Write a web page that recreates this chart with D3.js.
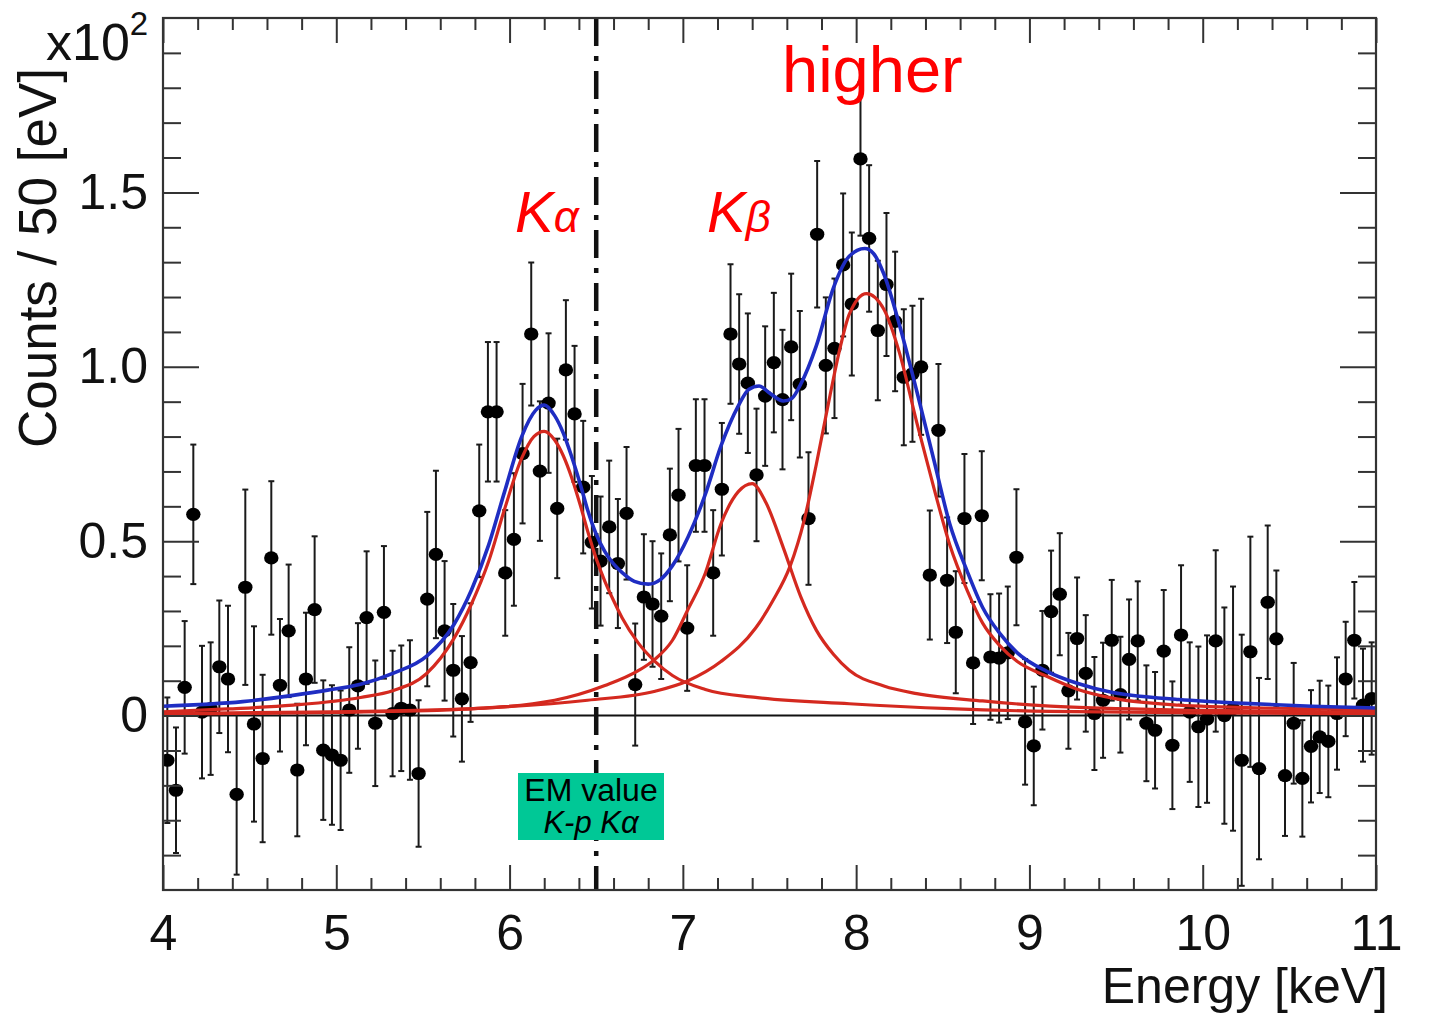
<!DOCTYPE html>
<html lang="en">
<head>
<meta charset="UTF-8">
<title>Kaonic X-ray spectrum</title>
<script src="https://d3js.org/d3.v7.min.js"></script>
<style>
  body { margin: 0; background: #fff; }
  svg { font-family: "Liberation Sans", Arial, Helvetica, sans-serif; }
</style>
</head>
<body>
<svg id="chart" width="1430" height="1013"></svg>
<script>
// ---- data ----
const binStart = 4.0, binWidth = 0.05;   // 50 eV bins
const counts = [
  -0.128,-0.214,0.081,0.577,0.01,0.02,0.14,0.105,-0.226,0.368,
  -0.024,-0.123,0.452,0.087,0.243,-0.156,0.105,0.304,-0.099,-0.113,
  -0.128,0.016,0.085,0.281,-0.022,0.296,0.006,0.021,0.016,-0.166,
  0.334,0.462,0.243,0.13,0.048,0.152,0.587,0.871,0.871,0.409,
  0.505,0.751,1.094,0.701,0.896,0.594,0.991,0.865,0.655,0.497,
  0.443,0.541,0.436,0.58,0.089,0.34,0.32,0.285,0.518,0.632,
  0.251,0.717,0.717,0.409,0.649,1.094,1.008,0.953,0.69,0.916,
  1.012,0.906,1.057,0.95,0.565,1.38,1.004,1.053,1.292,1.18,
  1.596,1.368,1.104,1.236,1.13,0.97,0.98,1.0,0.403,0.818,
  0.388,0.239,0.565,0.151,0.573,0.168,0.165,0.18,0.454,-0.018,
  -0.087,0.13,0.298,0.348,0.071,0.221,0.121,0.006,0.044,0.216,
  0.06,0.161,0.214,-0.022,-0.042,0.185,-0.085,0.231,0.01,-0.032,
  -0.01,0.214,0.0,0.02,-0.128,0.183,-0.152,0.325,0.22,-0.172,
  -0.022,-0.18,-0.088,-0.061,-0.074,0.006,0.105,0.216,0.03,0.049
];
const errors = [
  0.18,0.18,0.19,0.2,0.19,0.19,0.19,0.21,0.23,0.28,
  0.28,0.24,0.22,0.19,0.19,0.19,0.19,0.21,0.2,0.2,
  0.2,0.18,0.18,0.19,0.18,0.19,0.18,0.18,0.2,0.21,
  0.25,0.24,0.2,0.19,0.18,0.17,0.19,0.2,0.2,0.18,
  0.19,0.2,0.205,0.2,0.2,0.2,0.2,0.195,0.19,0.19,
  0.185,0.19,0.185,0.19,0.175,0.18,0.18,0.18,0.19,0.19,
  0.18,0.19,0.19,0.18,0.19,0.2,0.2,0.2,0.19,0.2,
  0.2,0.2,0.21,0.21,0.19,0.21,0.195,0.2,0.205,0.205,
  0.22,0.21,0.2,0.205,0.2,0.195,0.195,0.195,0.185,0.19,
  0.18,0.175,0.185,0.175,0.185,0.18,0.185,0.19,0.195,0.18,
  0.17,0.17,0.175,0.175,0.166,0.175,0.167,0.162,0.165,0.173,
  0.166,0.172,0.171,0.166,0.167,0.175,0.183,0.2,0.2,0.23,
  0.24,0.26,0.31,0.35,0.36,0.33,0.26,0.22,0.196,0.173,
  0.173,0.167,0.161,0.161,0.16,0.161,0.164,0.167,0.162,0.161
];

// fit curves, [energy keV, value]
const totalFit = [[4.0,0.027],[4.46,0.04],[4.75,0.058],[4.95,0.073],[5.14,0.09],[5.33,0.122],[5.52,0.17],
  [5.68,0.262],[5.78,0.36],[5.88,0.49],[5.97,0.64],[6.07,0.8],[6.15,0.875],[6.2,0.89],[6.26,0.86],
  [6.31,0.81],[6.36,0.74],[6.41,0.66],[6.45,0.59],[6.5,0.52],[6.55,0.47],[6.6,0.435],[6.65,0.41],
  [6.72,0.385],[6.8,0.377],[6.87,0.39],[6.94,0.43],
  [7.03,0.512],[7.13,0.635],[7.22,0.773],[7.32,0.888],[7.38,0.935],[7.44,0.945],[7.5,0.925],[7.58,0.902],
  [7.63,0.91],[7.68,0.95],[7.77,1.06],[7.87,1.228],[7.96,1.317],[8.05,1.339],[8.1,1.325],[8.16,1.266],
  [8.25,1.12],[8.35,0.93],[8.45,0.73],[8.54,0.55],[8.64,0.415],[8.73,0.31],[8.83,0.235],[8.93,0.18],
  [9.1,0.127],[9.28,0.092],[9.48,0.066],[9.67,0.054],[9.86,0.046],[10.24,0.035],[10.63,0.027],[11.0,0.022]];
const kAlphaFit = [[4.0,0.011],[4.37,0.019],[4.75,0.03],[5.14,0.052],[5.33,0.072],[5.52,0.12],[5.68,0.222],
  [5.78,0.32],[5.88,0.443],[5.97,0.59],[6.07,0.738],[6.14,0.8],[6.2,0.815],[6.26,0.79],[6.31,0.745],
  [6.36,0.68],[6.41,0.6],[6.45,0.53],[6.5,0.45],[6.55,0.385],[6.6,0.33],[6.65,0.28],[6.74,0.21],
  [6.84,0.155],[6.94,0.115],[7.13,0.075],[7.42,0.052],
  [7.96,0.034],[8.54,0.02],[9.12,0.012],[10.0,0.008],[11.0,0.005]];
const kBetaFit = [[4.0,0.004],[5.0,0.009],[5.68,0.017],[6.26,0.044],[6.55,0.086],[6.74,0.128],[6.84,0.162],
  [6.94,0.216],[7.03,0.305],[7.13,0.409],[7.22,0.55],[7.32,0.642],[7.4,0.665],[7.48,0.61],[7.58,0.481],
  [7.68,0.341],[7.77,0.245],[7.87,0.175],[7.96,0.13],[8.16,0.085],[8.35,0.063],[8.73,0.042],[9.12,0.027],
  [10.0,0.015],[11.0,0.009]];
const higherFit = [[4.0,0.006],[5.0,0.011],[5.68,0.018],[6.45,0.044],[6.84,0.07],[7.03,0.1],[7.22,0.155],
  [7.42,0.251],[7.52,0.33],[7.62,0.43],[7.7,0.56],[7.77,0.72],[7.85,0.92],[7.91,1.06],[7.96,1.15],
  [8.06,1.21],[8.16,1.165],[8.25,1.04],[8.35,0.84],[8.45,0.65],[8.54,0.49],[8.64,0.36],[8.73,0.265],
  [8.83,0.2],[8.93,0.155],[9.09,0.115],[9.28,0.075],[9.48,0.05],[9.86,0.03],[10.43,0.021],[11.0,0.016]];

const xTickValues = [4, 5, 6, 7, 8, 9, 10, 11];
const yTickValues = [0, 0.5, 1.0, 1.5];
const emValue = 6.5;   // keV, dash-dot marker

// ---- layout ----
const svg = d3.select("#chart");
const frame = { left: 163, right: 1376, top: 18, bottom: 890 };
const x = d3.scaleLinear().domain([4, 11]).range([frame.left, frame.right]);
const y = d3.scaleLinear().domain([-0.5, 2.0]).range([frame.bottom, frame.top]);

svg.append("rect").attr("width", 1430).attr("height", 1013).attr("fill", "#fff");

svg.append("clipPath").attr("id", "plotClip")
  .append("rect")
  .attr("x", frame.left).attr("y", frame.top)
  .attr("width", frame.right - frame.left).attr("height", frame.bottom - frame.top);

const plot = svg.append("g").attr("clip-path", "url(#plotClip)");

// zero line
plot.append("line")
  .attr("x1", x(4)).attr("x2", x(11))
  .attr("y1", y(0)).attr("y2", y(0))
  .attr("stroke", "#111").attr("stroke-width", 2);

// dash-dot EM value line
plot.append("line")
  .attr("x1", x(emValue)).attr("x2", x(emValue))
  .attr("y1", frame.top).attr("y2", frame.bottom)
  .attr("stroke", "#111").attr("stroke-width", 4.5)
  .attr("stroke-dasharray", "28,10,5,10");

// data points with error bars
const points = counts.map((c, i) => ({ e: binStart + binWidth * (i + 0.5), v: c, err: errors[i] }));

const bars = plot.append("g").attr("stroke", "#1a1a1a").attr("stroke-width", 2);
bars.selectAll("line.err").data(points).join("line")
  .attr("class", "err")
  .attr("x1", d => x(d.e)).attr("x2", d => x(d.e))
  .attr("y1", d => y(d.v + d.err)).attr("y2", d => y(d.v - d.err));
bars.selectAll("line.capTop").data(points).join("line")
  .attr("class", "capTop")
  .attr("x1", d => x(d.e) - 3).attr("x2", d => x(d.e) + 3)
  .attr("y1", d => y(d.v + d.err)).attr("y2", d => y(d.v + d.err));
bars.selectAll("line.capBot").data(points).join("line")
  .attr("class", "capBot")
  .attr("x1", d => x(d.e) - 3).attr("x2", d => x(d.e) + 3)
  .attr("y1", d => y(d.v - d.err)).attr("y2", d => y(d.v - d.err));

plot.append("g").selectAll("ellipse").data(points).join("ellipse")
  .attr("cx", d => x(d.e)).attr("cy", d => y(d.v))
  .attr("rx", 7.2).attr("ry", 6.6)
  .attr("fill", "#000");

// fit curves
const line = d3.line()
  .x(d => x(d[0])).y(d => y(d[1]))
  .curve(d3.curveMonotoneX);

[kAlphaFit, kBetaFit, higherFit].forEach(c => {
  plot.append("path").datum(c)
    .attr("d", line)
    .attr("fill", "none")
    .attr("stroke", "#d4291f")
    .attr("stroke-width", 3.2);
});
plot.append("path").datum(totalFit)
  .attr("d", line)
  .attr("fill", "none")
  .attr("stroke", "#1f2dc2")
  .attr("stroke-width", 3.6);

// ---- axes (ROOT style, ticks inside on all four sides) ----
const xMinor = d3.range(4, 11.001, 0.2).filter(v => Math.abs(v - Math.round(v)) > 1e-6);
const yMinor = d3.range(-0.5, 2.001, 0.1).filter(v => Math.abs(v * 2 - Math.round(v * 2)) > 1e-6);

const axisStyle = g => {
  g.select(".domain").remove();
  g.selectAll(".tick line").attr("stroke", "#333").attr("stroke-width", 2);
  g.selectAll(".tick text").attr("font-size", 50).attr("fill", "#111");
};

svg.append("g").attr("transform", `translate(0,${frame.bottom})`)
  .call(d3.axisBottom(x).tickValues(xTickValues).tickSizeInner(-25).tickSizeOuter(0)
    .tickPadding(24).tickFormat(d3.format("d")))
  .call(axisStyle);
svg.append("g").attr("transform", `translate(0,${frame.bottom})`)
  .call(d3.axisBottom(x).tickValues(xMinor).tickSize(-12).tickFormat(""))
  .call(axisStyle);
svg.append("g").attr("transform", `translate(0,${frame.top})`)
  .call(d3.axisTop(x).tickValues(xTickValues).tickSize(-25).tickFormat(""))
  .call(axisStyle);
svg.append("g").attr("transform", `translate(0,${frame.top})`)
  .call(d3.axisTop(x).tickValues(xMinor).tickSize(-12).tickFormat(""))
  .call(axisStyle);

svg.append("g").attr("transform", `translate(${frame.left},0)`)
  .call(d3.axisLeft(y).tickValues(yTickValues).tickSizeInner(-36).tickSizeOuter(0)
    .tickPadding(15).tickFormat(d => d === 0 ? "0" : d3.format(".1f")(d)))
  .call(axisStyle);
svg.append("g").attr("transform", `translate(${frame.left},0)`)
  .call(d3.axisLeft(y).tickValues(yMinor).tickSize(-18).tickFormat(""))
  .call(axisStyle);
svg.append("g").attr("transform", `translate(${frame.right},0)`)
  .call(d3.axisRight(y).tickValues(yTickValues).tickSize(-36).tickFormat(""))
  .call(axisStyle);
svg.append("g").attr("transform", `translate(${frame.right},0)`)
  .call(d3.axisRight(y).tickValues(yMinor).tickSize(-18).tickFormat(""))
  .call(axisStyle);

// frame
svg.append("rect")
  .attr("x", frame.left).attr("y", frame.top)
  .attr("width", frame.right - frame.left).attr("height", frame.bottom - frame.top)
  .attr("fill", "none").attr("stroke", "#333").attr("stroke-width", 2.2);

// axis titles
svg.append("text")
  .attr("x", 1388).attr("y", 1003)
  .attr("text-anchor", "end").attr("font-size", 50).attr("fill", "#111")
  .text("Energy [keV]");

svg.append("text")
  .attr("transform", "translate(56,68) rotate(-90)")
  .attr("text-anchor", "end").attr("font-size", 53).attr("fill", "#111")
  .text("Counts / 50 [eV]");

const mult = svg.append("text").attr("x", 46).attr("y", 60).attr("font-size", 52).attr("fill", "#111");
mult.append("tspan").text("x10");
mult.append("tspan").attr("font-size", 33).attr("dy", -25).text("2");

// peak labels
const peakLabels = [
  { name: "K", sub: "α", x: 515 },
  { name: "K", sub: "β", x: 707 }
];
peakLabels.forEach(p => {
  const t = svg.append("text").attr("x", p.x).attr("y", 232)
    .attr("fill", "#ff0000").attr("font-style", "italic");
  t.append("tspan").attr("font-size", 58).text(p.name);
  t.append("tspan").attr("font-size", 44).text(p.sub);
});

svg.append("text")
  .attr("x", 782).attr("y", 92)
  .attr("font-size", 65).attr("fill", "#ff0000")
  .text("higher");

// EM value box
svg.append("rect")
  .attr("x", 518).attr("y", 773).attr("width", 146).attr("height", 67)
  .attr("fill", "#00c896");
svg.append("text")
  .attr("x", 591).attr("y", 801).attr("text-anchor", "middle")
  .attr("font-size", 32).attr("fill", "#000")
  .text("EM value");
svg.append("text")
  .attr("x", 591).attr("y", 833).attr("text-anchor", "middle")
  .attr("font-size", 31).attr("font-style", "italic").attr("fill", "#000")
  .text("K-p Kα");
</script>
</body>
</html>
